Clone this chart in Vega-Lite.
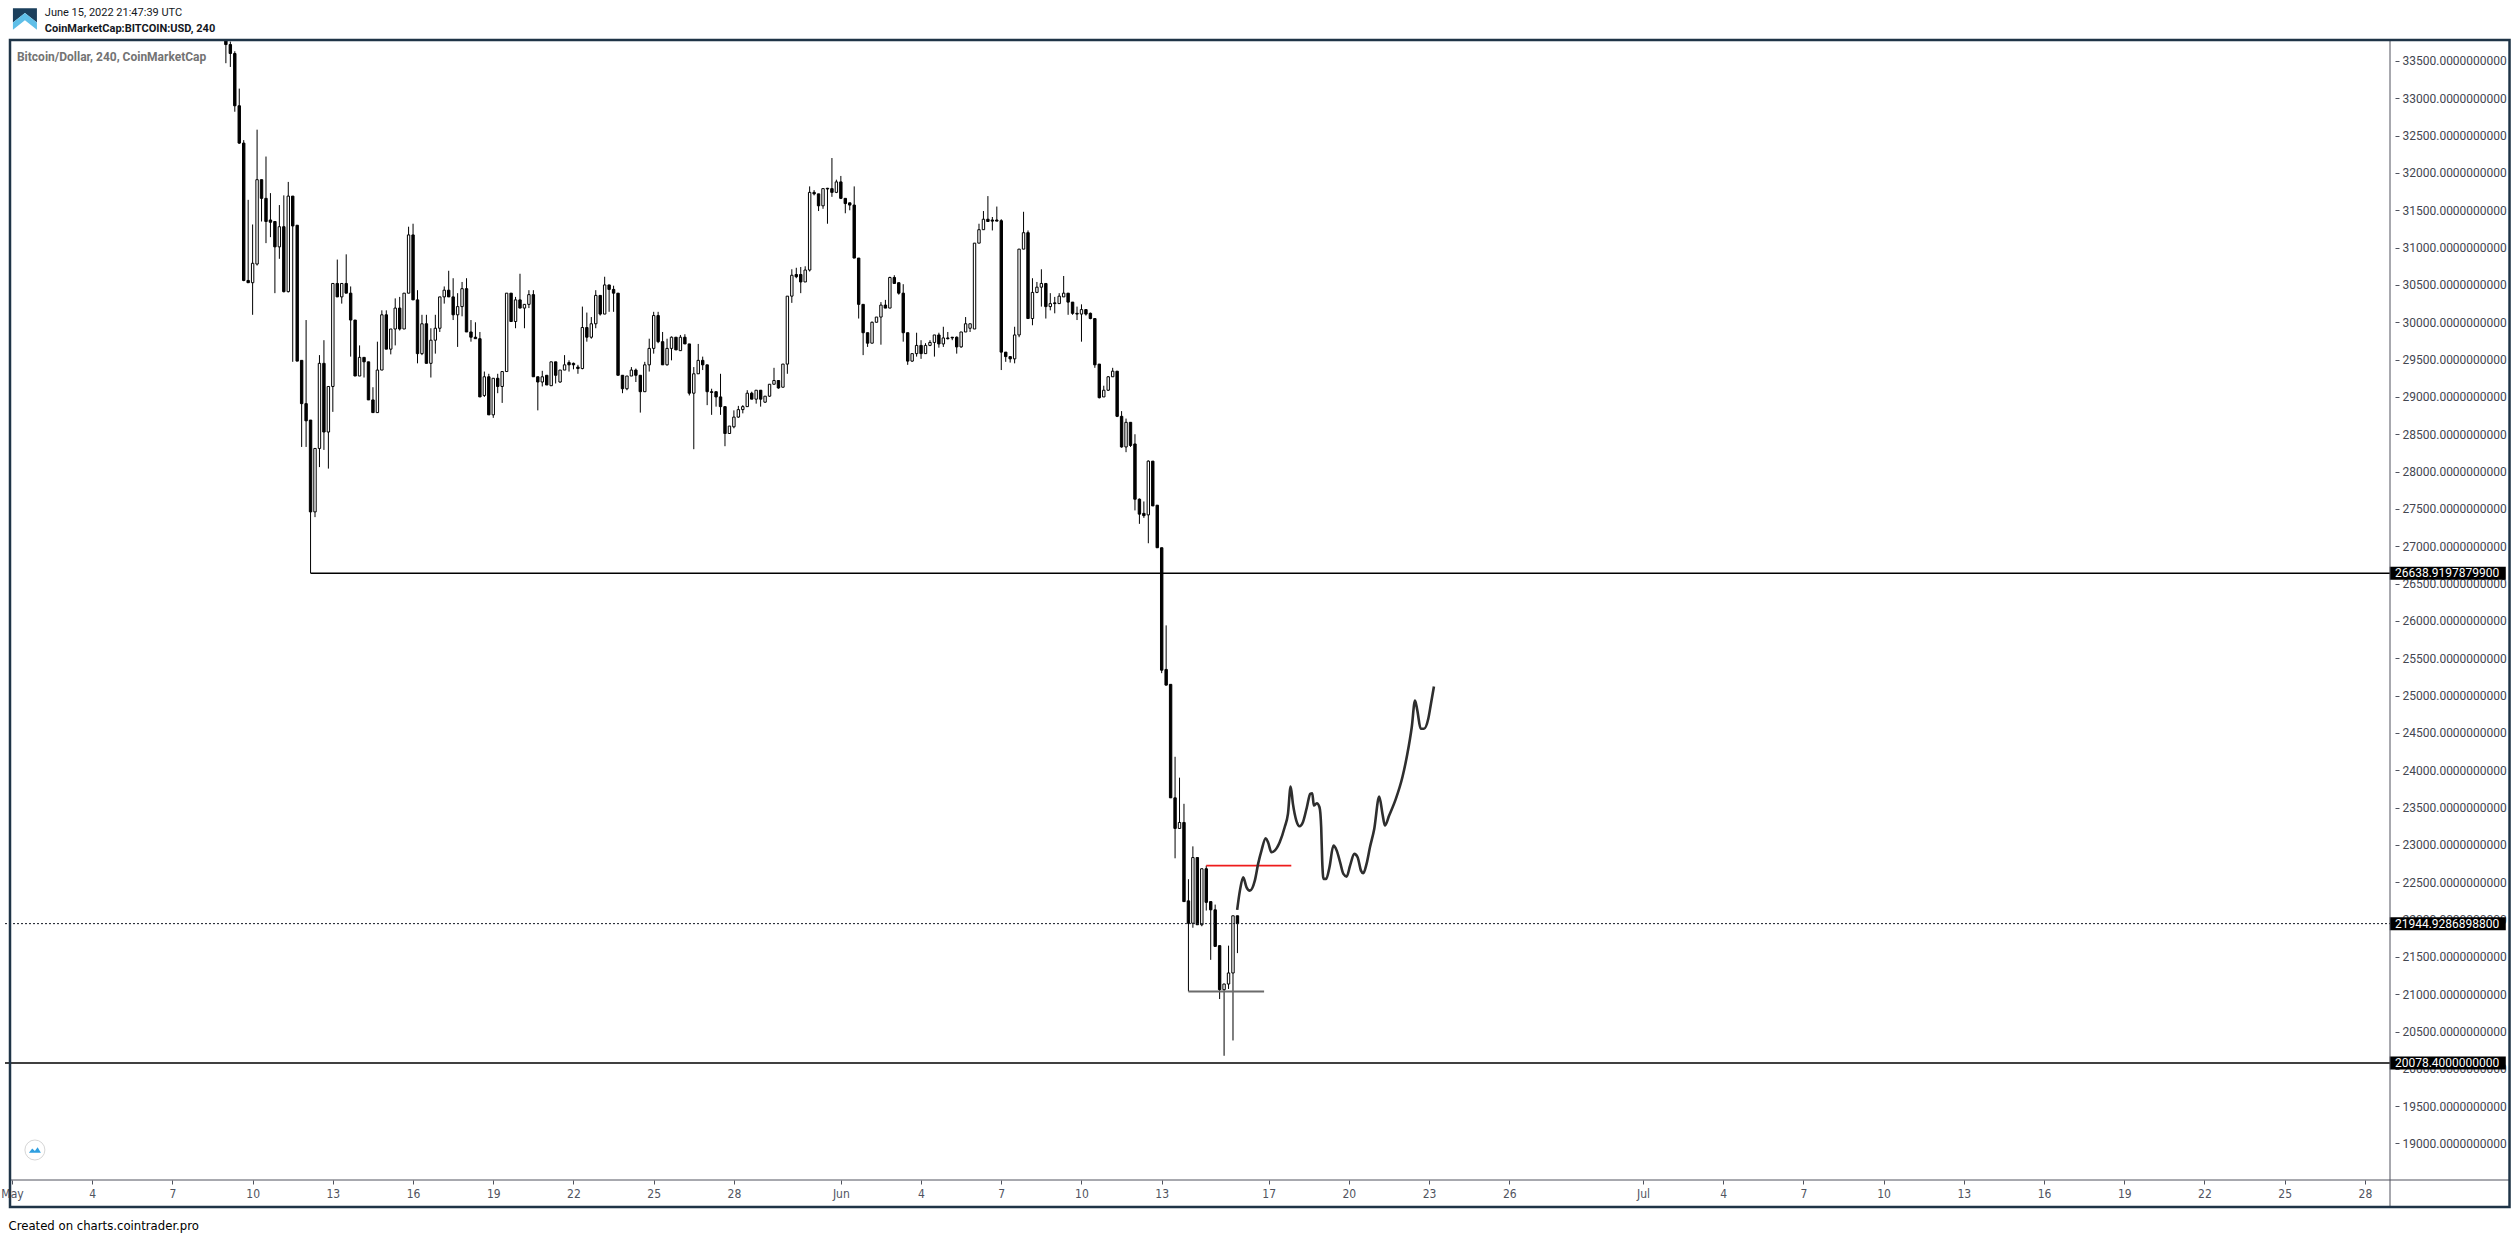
{
"$schema": "https://vega.github.io/schema/vega-lite/v6.json",
"width": 2390, "height": 1140,
"autosize": {"type": "none"},
"padding": {"left": 5, "top": 40, "right": 123, "bottom": 60},
"background": "#ffffff",
"config": {"view": {"stroke": null}, "axis": {"labelOverlap": false}},
"resolve": {"axis": {"y": "independent"}},
"datasets": {
"candles": [
{"t":"2022-05-09T00:00","o":33950,"h":34150,"l":33470,"c":33720},
{"t":"2022-05-09T04:00","o":33720,"h":33760,"l":33420,"c":33600},
{"t":"2022-05-09T08:00","o":33600,"h":33630,"l":32820,"c":32900},
{"t":"2022-05-09T12:00","o":32900,"h":33130,"l":32390,"c":32400},
{"t":"2022-05-09T16:00","o":32400,"h":32440,"l":30550,"c":30560},
{"t":"2022-05-09T20:00","o":30560,"h":31640,"l":30530,"c":30530},
{"t":"2022-05-10T00:00","o":30530,"h":31310,"l":30100,"c":30790},
{"t":"2022-05-10T04:00","o":30780,"h":32580,"l":30760,"c":31910},
{"t":"2022-05-10T08:00","o":31910,"h":31910,"l":31350,"c":31660},
{"t":"2022-05-10T12:00","o":31660,"h":32220,"l":31060,"c":31350},
{"t":"2022-05-10T16:00","o":31370,"h":31730,"l":31140,"c":31340},
{"t":"2022-05-10T20:00","o":31350,"h":31350,"l":30390,"c":31010},
{"t":"2022-05-11T00:00","o":31010,"h":31570,"l":30850,"c":31280},
{"t":"2022-05-11T04:00","o":31280,"h":31700,"l":30400,"c":30410},
{"t":"2022-05-11T08:00","o":30410,"h":31880,"l":30400,"c":31690},
{"t":"2022-05-11T12:00","o":31690,"h":31690,"l":29470,"c":31290},
{"t":"2022-05-11T16:00","o":31300,"h":31300,"l":29480,"c":29480},
{"t":"2022-05-11T20:00","o":29490,"h":29490,"l":28330,"c":28910},
{"t":"2022-05-12T00:00","o":28910,"h":30030,"l":28330,"c":28680},
{"t":"2022-05-12T04:00","o":28690,"h":28690,"l":26638.92,"c":27460},
{"t":"2022-05-12T08:00","o":27460,"h":28310,"l":27390,"c":28310},
{"t":"2022-05-12T12:00","o":28310,"h":29560,"l":28060,"c":29450},
{"t":"2022-05-12T16:00","o":29450,"h":29760,"l":28290,"c":28530},
{"t":"2022-05-12T20:00","o":28530,"h":29140,"l":28040,"c":29140},
{"t":"2022-05-13T00:00","o":29140,"h":30520,"l":28800,"c":30520},
{"t":"2022-05-13T04:00","o":30520,"h":30840,"l":30340,"c":30340},
{"t":"2022-05-13T08:00","o":30340,"h":30520,"l":30250,"c":30520},
{"t":"2022-05-13T12:00","o":30520,"h":30910,"l":30390,"c":30390},
{"t":"2022-05-13T16:00","o":30390,"h":30480,"l":29540,"c":30030},
{"t":"2022-05-13T20:00","o":30030,"h":30030,"l":29280,"c":29280},
{"t":"2022-05-14T00:00","o":29280,"h":29690,"l":29280,"c":29530},
{"t":"2022-05-14T04:00","o":29530,"h":29530,"l":29260,"c":29470},
{"t":"2022-05-14T08:00","o":29470,"h":29470,"l":28960,"c":28960},
{"t":"2022-05-14T12:00","o":28960,"h":29130,"l":28790,"c":28790},
{"t":"2022-05-14T16:00","o":28790,"h":29740,"l":28790,"c":29360},
{"t":"2022-05-14T20:00","o":29360,"h":30160,"l":29360,"c":30100},
{"t":"2022-05-15T00:00","o":30100,"h":30160,"l":29640,"c":29640},
{"t":"2022-05-15T04:00","o":29640,"h":29910,"l":29570,"c":29910},
{"t":"2022-05-15T08:00","o":29910,"h":30320,"l":29690,"c":30190},
{"t":"2022-05-15T12:00","o":30190,"h":30340,"l":29890,"c":29910},
{"t":"2022-05-15T16:00","o":29910,"h":30390,"l":29910,"c":30390},
{"t":"2022-05-15T20:00","o":30390,"h":31280,"l":30390,"c":31170},
{"t":"2022-05-16T00:00","o":31170,"h":31320,"l":30300,"c":30300},
{"t":"2022-05-16T04:00","o":30300,"h":30430,"l":29450,"c":29580},
{"t":"2022-05-16T08:00","o":29580,"h":30100,"l":29560,"c":29980},
{"t":"2022-05-16T12:00","o":29980,"h":30100,"l":29450,"c":29450},
{"t":"2022-05-16T16:00","o":29450,"h":29920,"l":29260,"c":29760},
{"t":"2022-05-16T20:00","o":29760,"h":30100,"l":29580,"c":29920},
{"t":"2022-05-17T00:00","o":29920,"h":30340,"l":29870,"c":30340},
{"t":"2022-05-17T04:00","o":30340,"h":30480,"l":30250,"c":30430},
{"t":"2022-05-17T08:00","o":30430,"h":30690,"l":30340,"c":30340},
{"t":"2022-05-17T12:00","o":30340,"h":30590,"l":30030,"c":30100},
{"t":"2022-05-17T16:00","o":30100,"h":30390,"l":29670,"c":30210},
{"t":"2022-05-17T20:00","o":30210,"h":30540,"l":30080,"c":30450},
{"t":"2022-05-18T00:00","o":30450,"h":30590,"l":29870,"c":29870},
{"t":"2022-05-18T04:00","o":29870,"h":30030,"l":29740,"c":29800},
{"t":"2022-05-18T08:00","o":29800,"h":30000,"l":29780,"c":29780},
{"t":"2022-05-18T12:00","o":29780,"h":29870,"l":29000,"c":29000},
{"t":"2022-05-18T16:00","o":29020,"h":29340,"l":29000,"c":29270},
{"t":"2022-05-18T20:00","o":29270,"h":29310,"l":28760,"c":28760},
{"t":"2022-05-19T00:00","o":28760,"h":29250,"l":28720,"c":29250},
{"t":"2022-05-19T04:00","o":29250,"h":29310,"l":29050,"c":29140},
{"t":"2022-05-19T08:00","o":29140,"h":29340,"l":28920,"c":29340},
{"t":"2022-05-19T12:00","o":29340,"h":30390,"l":29340,"c":30390},
{"t":"2022-05-19T16:00","o":30390,"h":30390,"l":30010,"c":30010},
{"t":"2022-05-19T20:00","o":30010,"h":30340,"l":29920,"c":30300},
{"t":"2022-05-20T00:00","o":30300,"h":30650,"l":30190,"c":30190},
{"t":"2022-05-20T04:00","o":30190,"h":30240,"l":29920,"c":30240},
{"t":"2022-05-20T08:00","o":30240,"h":30430,"l":30190,"c":30370},
{"t":"2022-05-20T12:00","o":30370,"h":30430,"l":29270,"c":29270},
{"t":"2022-05-20T16:00","o":29270,"h":29270,"l":28820,"c":29200},
{"t":"2022-05-20T20:00","o":29200,"h":29350,"l":29140,"c":29270},
{"t":"2022-05-21T00:00","o":29290,"h":29290,"l":29160,"c":29160},
{"t":"2022-05-21T04:00","o":29150,"h":29470,"l":29150,"c":29470},
{"t":"2022-05-21T08:00","o":29470,"h":29470,"l":29180,"c":29290},
{"t":"2022-05-21T12:00","o":29200,"h":29360,"l":29190,"c":29360},
{"t":"2022-05-21T16:00","o":29360,"h":29560,"l":29360,"c":29430},
{"t":"2022-05-21T20:00","o":29460,"h":29490,"l":29340,"c":29430},
{"t":"2022-05-22T00:00","o":29450,"h":29460,"l":29370,"c":29430},
{"t":"2022-05-22T04:00","o":29400,"h":29430,"l":29310,"c":29380},
{"t":"2022-05-22T08:00","o":29380,"h":30210,"l":29370,"c":29930},
{"t":"2022-05-22T12:00","o":29930,"h":30130,"l":29740,"c":29800},
{"t":"2022-05-22T16:00","o":29800,"h":30070,"l":29780,"c":29980},
{"t":"2022-05-22T20:00","o":29980,"h":30430,"l":29920,"c":30360},
{"t":"2022-05-23T00:00","o":30360,"h":30360,"l":30090,"c":30110},
{"t":"2022-05-23T04:00","o":30110,"h":30610,"l":30110,"c":30500},
{"t":"2022-05-23T08:00","o":30500,"h":30500,"l":30140,"c":30440},
{"t":"2022-05-23T12:00","o":30440,"h":30490,"l":30140,"c":30390},
{"t":"2022-05-23T16:00","o":30390,"h":30390,"l":29290,"c":29290},
{"t":"2022-05-23T20:00","o":29290,"h":29290,"l":29050,"c":29110},
{"t":"2022-05-24T00:00","o":29110,"h":29280,"l":29090,"c":29280},
{"t":"2022-05-24T04:00","o":29280,"h":29400,"l":29280,"c":29360},
{"t":"2022-05-24T08:00","o":29360,"h":29380,"l":29200,"c":29290},
{"t":"2022-05-24T12:00","o":29290,"h":29290,"l":28790,"c":29070},
{"t":"2022-05-24T16:00","o":29070,"h":29470,"l":29070,"c":29430},
{"t":"2022-05-24T20:00","o":29430,"h":29780,"l":29340,"c":29650},
{"t":"2022-05-25T00:00","o":29650,"h":30140,"l":29580,"c":30090},
{"t":"2022-05-25T04:00","o":30090,"h":30140,"l":29720,"c":29740},
{"t":"2022-05-25T08:00","o":29740,"h":29870,"l":29430,"c":29430},
{"t":"2022-05-25T12:00","o":29430,"h":29780,"l":29420,"c":29650},
{"t":"2022-05-25T16:00","o":29650,"h":29810,"l":29490,"c":29800},
{"t":"2022-05-25T20:00","o":29800,"h":29800,"l":29630,"c":29630},
{"t":"2022-05-26T00:00","o":29620,"h":29830,"l":29620,"c":29800},
{"t":"2022-05-26T04:00","o":29800,"h":29840,"l":29710,"c":29710},
{"t":"2022-05-26T08:00","o":29710,"h":29710,"l":29020,"c":29050},
{"t":"2022-05-26T12:00","o":29050,"h":29400,"l":28300,"c":29310},
{"t":"2022-05-26T16:00","o":29310,"h":29710,"l":29310,"c":29490},
{"t":"2022-05-26T20:00","o":29490,"h":29540,"l":29360,"c":29430},
{"t":"2022-05-27T00:00","o":29430,"h":29430,"l":28890,"c":29070},
{"t":"2022-05-27T04:00","o":29070,"h":29110,"l":28760,"c":29060},
{"t":"2022-05-27T08:00","o":29070,"h":29070,"l":28870,"c":29000},
{"t":"2022-05-27T12:00","o":29000,"h":29310,"l":28760,"c":28870},
{"t":"2022-05-27T16:00","o":28870,"h":28870,"l":28340,"c":28510},
{"t":"2022-05-27T20:00","o":28510,"h":28610,"l":28510,"c":28610},
{"t":"2022-05-28T00:00","o":28600,"h":28820,"l":28580,"c":28730},
{"t":"2022-05-28T04:00","o":28730,"h":28880,"l":28720,"c":28830},
{"t":"2022-05-28T08:00","o":28830,"h":28890,"l":28780,"c":28870},
{"t":"2022-05-28T12:00","o":28870,"h":29090,"l":28870,"c":29050},
{"t":"2022-05-28T16:00","o":29050,"h":29070,"l":28970,"c":28970},
{"t":"2022-05-28T20:00","o":28970,"h":29090,"l":28910,"c":29090},
{"t":"2022-05-29T00:00","o":29090,"h":29090,"l":28870,"c":28970},
{"t":"2022-05-29T04:00","o":28930,"h":29010,"l":28920,"c":29010},
{"t":"2022-05-29T08:00","o":29010,"h":29170,"l":29000,"c":29170},
{"t":"2022-05-29T12:00","o":29170,"h":29390,"l":29170,"c":29220},
{"t":"2022-05-29T16:00","o":29220,"h":29220,"l":29110,"c":29120},
{"t":"2022-05-29T20:00","o":29130,"h":29440,"l":29130,"c":29440},
{"t":"2022-05-30T00:00","o":29440,"h":30350,"l":29310,"c":30350},
{"t":"2022-05-30T04:00","o":30350,"h":30710,"l":30260,"c":30630},
{"t":"2022-05-30T08:00","o":30640,"h":30730,"l":30590,"c":30610},
{"t":"2022-05-30T12:00","o":30640,"h":30740,"l":30390,"c":30540},
{"t":"2022-05-30T16:00","o":30540,"h":30750,"l":30540,"c":30700},
{"t":"2022-05-30T20:00","o":30700,"h":31820,"l":30680,"c":31740},
{"t":"2022-05-31T00:00","o":31740,"h":31770,"l":31700,"c":31720},
{"t":"2022-05-31T04:00","o":31720,"h":31720,"l":31490,"c":31560},
{"t":"2022-05-31T08:00","o":31560,"h":31790,"l":31520,"c":31790},
{"t":"2022-05-31T12:00","o":31795,"h":31800,"l":31320,"c":31785},
{"t":"2022-05-31T16:00","o":31790,"h":32200,"l":31680,"c":31740},
{"t":"2022-05-31T20:00","o":31740,"h":31910,"l":31730,"c":31880},
{"t":"2022-06-01T00:00","o":31880,"h":31960,"l":31650,"c":31660},
{"t":"2022-06-01T04:00","o":31660,"h":31660,"l":31460,"c":31590},
{"t":"2022-06-01T08:00","o":31600,"h":31600,"l":31500,"c":31570},
{"t":"2022-06-01T12:00","o":31570,"h":31820,"l":30860,"c":30860},
{"t":"2022-06-01T16:00","o":30860,"h":30860,"l":30050,"c":30240},
{"t":"2022-06-01T20:00","o":30240,"h":30240,"l":29560,"c":29860},
{"t":"2022-06-02T00:00","o":29860,"h":29860,"l":29670,"c":29720},
{"t":"2022-06-02T04:00","o":29720,"h":30010,"l":29720,"c":30000},
{"t":"2022-06-02T08:00","o":30000,"h":30070,"l":30000,"c":30070},
{"t":"2022-06-02T12:00","o":30070,"h":30270,"l":29700,"c":30230},
{"t":"2022-06-02T16:00","o":30230,"h":30300,"l":30190,"c":30190},
{"t":"2022-06-02T20:00","o":30190,"h":30610,"l":30190,"c":30600},
{"t":"2022-06-03T00:00","o":30600,"h":30630,"l":30520,"c":30520},
{"t":"2022-06-03T04:00","o":30530,"h":30530,"l":30370,"c":30390},
{"t":"2022-06-03T08:00","o":30390,"h":30510,"l":29740,"c":29860},
{"t":"2022-06-03T12:00","o":29860,"h":29860,"l":29430,"c":29480},
{"t":"2022-06-03T16:00","o":29480,"h":29580,"l":29470,"c":29580},
{"t":"2022-06-03T20:00","o":29580,"h":29860,"l":29540,"c":29690},
{"t":"2022-06-04T00:00","o":29690,"h":29760,"l":29510,"c":29580},
{"t":"2022-06-04T04:00","o":29580,"h":29720,"l":29580,"c":29690},
{"t":"2022-06-04T08:00","o":29690,"h":29760,"l":29680,"c":29730},
{"t":"2022-06-04T12:00","o":29730,"h":29830,"l":29540,"c":29830},
{"t":"2022-06-04T16:00","o":29830,"h":29860,"l":29660,"c":29710},
{"t":"2022-06-04T20:00","o":29710,"h":29940,"l":29670,"c":29790},
{"t":"2022-06-05T00:00","o":29790,"h":29870,"l":29770,"c":29780},
{"t":"2022-06-05T04:00","o":29800,"h":29800,"l":29760,"c":29790},
{"t":"2022-06-05T08:00","o":29800,"h":29810,"l":29580,"c":29670},
{"t":"2022-06-05T12:00","o":29670,"h":29870,"l":29660,"c":29870},
{"t":"2022-06-05T16:00","o":29870,"h":30070,"l":29870,"c":29980},
{"t":"2022-06-05T20:00","o":29920,"h":29980,"l":29870,"c":29980},
{"t":"2022-06-06T00:00","o":29910,"h":31060,"l":29910,"c":31060},
{"t":"2022-06-06T04:00","o":31060,"h":31320,"l":31060,"c":31240},
{"t":"2022-06-06T08:00","o":31240,"h":31490,"l":31240,"c":31380},
{"t":"2022-06-06T12:00","o":31380,"h":31690,"l":31350,"c":31350},
{"t":"2022-06-06T16:00","o":31370,"h":31410,"l":31230,"c":31355},
{"t":"2022-06-06T20:00","o":31370,"h":31550,"l":31355,"c":31355},
{"t":"2022-06-07T00:00","o":31360,"h":31380,"l":29360,"c":29600},
{"t":"2022-06-07T04:00","o":29600,"h":29600,"l":29470,"c":29540},
{"t":"2022-06-07T08:00","o":29540,"h":29540,"l":29460,"c":29510},
{"t":"2022-06-07T12:00","o":29510,"h":29940,"l":29450,"c":29830},
{"t":"2022-06-07T16:00","o":29830,"h":30980,"l":29800,"c":30980},
{"t":"2022-06-07T20:00","o":30980,"h":31480,"l":30980,"c":31200},
{"t":"2022-06-08T00:00","o":31200,"h":31230,"l":30050,"c":30050},
{"t":"2022-06-08T04:00","o":30050,"h":30590,"l":29960,"c":30400},
{"t":"2022-06-08T08:00","o":30400,"h":30540,"l":30390,"c":30470},
{"t":"2022-06-08T12:00","o":30470,"h":30710,"l":30210,"c":30520},
{"t":"2022-06-08T16:00","o":30520,"h":30520,"l":30050,"c":30210},
{"t":"2022-06-08T20:00","o":30210,"h":30390,"l":30160,"c":30250},
{"t":"2022-06-09T00:00","o":30260,"h":30340,"l":30120,"c":30250},
{"t":"2022-06-09T04:00","o":30250,"h":30390,"l":30250,"c":30350},
{"t":"2022-06-09T08:00","o":30340,"h":30620,"l":30340,"c":30390},
{"t":"2022-06-09T12:00","o":30390,"h":30390,"l":30100,"c":30270},
{"t":"2022-06-09T16:00","o":30270,"h":30270,"l":30100,"c":30120},
{"t":"2022-06-09T20:00","o":30120,"h":30210,"l":30030,"c":30110},
{"t":"2022-06-10T00:00","o":30110,"h":30240,"l":29740,"c":30170},
{"t":"2022-06-10T04:00","o":30170,"h":30170,"l":30090,"c":30110},
{"t":"2022-06-10T08:00","o":30120,"h":30130,"l":30040,"c":30050},
{"t":"2022-06-10T12:00","o":30050,"h":30050,"l":29390,"c":29430},
{"t":"2022-06-10T16:00","o":29440,"h":29440,"l":28980,"c":28990},
{"t":"2022-06-10T20:00","o":29000,"h":29150,"l":29000,"c":29090},
{"t":"2022-06-11T00:00","o":29090,"h":29280,"l":29080,"c":29270},
{"t":"2022-06-11T04:00","o":29270,"h":29390,"l":29270,"c":29345},
{"t":"2022-06-11T08:00","o":29345,"h":29345,"l":28730,"c":28740},
{"t":"2022-06-11T12:00","o":28740,"h":28810,"l":28320,"c":28330},
{"t":"2022-06-11T16:00","o":28330,"h":28710,"l":28260,"c":28660},
{"t":"2022-06-11T20:00","o":28660,"h":28660,"l":28330,"c":28350},
{"t":"2022-06-12T00:00","o":28370,"h":28500,"l":27480,"c":27630},
{"t":"2022-06-12T04:00","o":27630,"h":27640,"l":27300,"c":27430},
{"t":"2022-06-12T08:00","o":27440,"h":27600,"l":27380,"c":27410},
{"t":"2022-06-12T12:00","o":27420,"h":28150,"l":27040,"c":28140},
{"t":"2022-06-12T16:00","o":28140,"h":28140,"l":27540,"c":27540},
{"t":"2022-06-12T20:00","o":27550,"h":27550,"l":26980,"c":26980},
{"t":"2022-06-13T00:00","o":26980,"h":26980,"l":25300,"c":25340},
{"t":"2022-06-13T04:00","o":25350,"h":25940,"l":25135,"c":25140},
{"t":"2022-06-13T08:00","o":25150,"h":25150,"l":23630,"c":23630},
{"t":"2022-06-13T12:00","o":23630,"h":24180,"l":22820,"c":23220},
{"t":"2022-06-13T16:00","o":23220,"h":23900,"l":23220,"c":23300},
{"t":"2022-06-13T20:00","o":23300,"h":23550,"l":22240,"c":22240},
{"t":"2022-06-14T00:00","o":22250,"h":22540,"l":21037,"c":21950},
{"t":"2022-06-14T04:00","o":21950,"h":22980,"l":21890,"c":22830},
{"t":"2022-06-14T08:00","o":22830,"h":22830,"l":21930,"c":21930},
{"t":"2022-06-14T12:00","o":21930,"h":22680,"l":21910,"c":22680},
{"t":"2022-06-14T16:00","o":22680,"h":22722,"l":22120,"c":22230},
{"t":"2022-06-14T20:00","o":22240,"h":22240,"l":21460,"c":22130},
{"t":"2022-06-15T00:00","o":22130,"h":22200,"l":21640,"c":21640},
{"t":"2022-06-15T04:00","o":21650,"h":21650,"l":20935,"c":21060},
{"t":"2022-06-15T08:00","o":21060,"h":21140,"l":20175,"c":21136},
{"t":"2022-06-15T12:00","o":21136,"h":21650,"l":21070,"c":21284},
{"t":"2022-06-15T16:00","o":21284,"h":22050,"l":20380,"c":22050},
{"t":"2022-06-15T20:00","o":22050,"h":22050,"l":21550,"c":21944.93}
],
"path": [
{"t":"2022-06-15T19:45","p":22130},{"t":"2022-06-15T22:12","p":22387},{"t":"2022-06-16T01:09","p":22565},{"t":"2022-06-16T04:10","p":22431},
{"t":"2022-06-16T07:08","p":22387},{"t":"2022-06-16T11:35","p":22521},{"t":"2022-06-16T14:33","p":22745},{"t":"2022-06-16T17:34","p":22923},
{"t":"2022-06-16T21:25","p":23088},{"t":"2022-06-16T23:28","p":23035},{"t":"2022-06-17T02:30","p":22901},{"t":"2022-06-17T05:27","p":22923},
{"t":"2022-06-17T09:55","p":23035},{"t":"2022-06-17T14:23","p":23236},{"t":"2022-06-17T17:20","p":23415},{"t":"2022-06-17T19:45","p":23781},
{"t":"2022-06-17T21:48","p":23549},{"t":"2022-06-18T00:50","p":23326},{"t":"2022-06-18T03:48","p":23249},{"t":"2022-06-18T06:45","p":23303},
{"t":"2022-06-18T10:19","p":23504},{"t":"2022-06-18T13:21","p":23683},{"t":"2022-06-18T15:09","p":23692},{"t":"2022-06-18T16:34","p":23527},
{"t":"2022-06-18T19:15","p":23558},{"t":"2022-06-18T21:39","p":23504},{"t":"2022-06-18T23:10","p":23236},{"t":"2022-06-19T00:04","p":22789},
{"t":"2022-06-19T01:13","p":22544},{"t":"2022-06-19T03:39","p":22544},{"t":"2022-06-19T06:36","p":22700},{"t":"2022-06-19T10:10","p":22990},
{"t":"2022-06-19T13:08","p":22923},{"t":"2022-06-19T16:09","p":22767},{"t":"2022-06-19T19:06","p":22611},{"t":"2022-06-19T22:03","p":22575},
{"t":"2022-06-20T01:05","p":22722},{"t":"2022-06-20T04:55","p":22879},{"t":"2022-06-20T07:52","p":22834},{"t":"2022-06-20T10:54","p":22655},
{"t":"2022-06-20T12:56","p":22619},{"t":"2022-06-20T15:53","p":22745},{"t":"2022-06-20T18:56","p":22968},{"t":"2022-06-20T22:47","p":23214},
{"t":"2022-06-21T03:14","p":23647},{"t":"2022-06-21T06:12","p":23415},{"t":"2022-06-21T08:20","p":23259},{"t":"2022-06-21T12:10","p":23393},
{"t":"2022-06-21T18:10","p":23616},{"t":"2022-06-22T00:03","p":23906},{"t":"2022-06-22T04:31","p":24220},{"t":"2022-06-22T08:27","p":24576},
{"t":"2022-06-22T11:24","p":24934},{"t":"2022-06-22T13:28","p":24800},{"t":"2022-06-22T16:29","p":24555},{"t":"2022-06-22T19:26","p":24555},
{"t":"2022-06-22T23:17","p":24689},{"t":"2022-06-23T01:41","p":24890},{"t":"2022-06-23T04:22","p":25122}
],
"levels": [
{"p":26638.91978799,"lab":"26638.9197879900"},
{"p":21944.92868988,"lab":"21944.9286898800"},
{"p":20078.4,"lab":"20078.4000000000"}
]
},
"layer": [
{
"data": {"name": "candles"},
"mark": {"type": "rule", "color": "#000000", "strokeWidth": 1, "clip": true},
"encoding": {
"x": {"field": "t", "type": "temporal",
"scale": {"domain": [{"year":2022,"month":4,"date":30,"hours":22,"minutes":13},{"year":2022,"month":7,"date":28,"hours":22,"minutes":33}], "nice": false},
"axis": {"values": [
{"year":2022,"month":5,"date":1},{"year":2022,"month":5,"date":4},{"year":2022,"month":5,"date":7},{"year":2022,"month":5,"date":10},{"year":2022,"month":5,"date":13},{"year":2022,"month":5,"date":16},{"year":2022,"month":5,"date":19},{"year":2022,"month":5,"date":22},{"year":2022,"month":5,"date":25},{"year":2022,"month":5,"date":28},
{"year":2022,"month":6,"date":1},{"year":2022,"month":6,"date":4},{"year":2022,"month":6,"date":7},{"year":2022,"month":6,"date":10},{"year":2022,"month":6,"date":13},{"year":2022,"month":6,"date":17},{"year":2022,"month":6,"date":20},{"year":2022,"month":6,"date":23},{"year":2022,"month":6,"date":26},
{"year":2022,"month":7,"date":1},{"year":2022,"month":7,"date":4},{"year":2022,"month":7,"date":7},{"year":2022,"month":7,"date":10},{"year":2022,"month":7,"date":13},{"year":2022,"month":7,"date":16},{"year":2022,"month":7,"date":19},{"year":2022,"month":7,"date":22},{"year":2022,"month":7,"date":25},{"year":2022,"month":7,"date":28}],
"labelExpr": "date(datum.value) === 1 ? timeFormat(datum.value, '%b') : timeFormat(datum.value, '%-d')",
"title": "Created on charts.cointrader.pro", "titleX": 3, "titleY": 45, "titleAlign": "left", "titleAnchor": "start", "titleBaseline": "middle", "titleAngle": 0,
"titleFont": "'Liberation Sans Narrow', 'DejaVu Sans Condensed', 'Roboto Condensed', Roboto, sans-serif", "titleFontSize": 13, "titleFontWeight": "normal", "titleColor": "#000000",
"domain": false, "grid": false, "ticks": true, "tickSize": 4, "tickColor": "#50535e",
"labelFont": "'Liberation Sans Narrow', 'DejaVu Sans Condensed', 'Roboto Condensed', Roboto, sans-serif", "labelFontSize": 12, "labelColor": "#50535e", "labelPadding": 4,
"labelOverlap": false, "labelFlush": false, "labelBound": false}},
"y": {"field": "l", "type": "quantitative",
"scale": {"domain": [18511, 33781], "nice": false, "zero": false},
"axis": {"orient": "right", "title": null, "values": [19000,20000,21000,22000,23000,24000,25000,26000,27000,28000,29000,30000,31000,32000,33000],
"labelExpr": "format(datum.value, '.10f')", "domain": false, "grid": false, "tickSize": 4, "tickColor": "#50535e",
"labelFont": "Roboto", "labelFontSize": 12, "labelColor": "#434651", "labelPadding": 3, "labelOverlap": false, "labelFlush": false, "labelBound": false}},
"y2": {"field": "h"}
}
},
{
"data": {"name": "candles"},
"mark": {"type": "bar", "width": 2.4, "stroke": "#000000", "strokeWidth": 1, "clip": true},
"encoding": {
"x": {"field": "t", "type": "temporal"},
"y": {"field": "o", "type": "quantitative",
"axis": {"orient": "right", "title": null, "values": [19500,20500,21500,22500,23500,24500,25500,26500,27500,28500,29500,30500,31500,32500,33500],
"labelExpr": "format(datum.value, '.10f')", "domain": false, "grid": false, "tickSize": 4, "tickColor": "#50535e",
"labelFont": "Roboto", "labelFontSize": 12, "labelColor": "#434651", "labelPadding": 3, "labelOverlap": false, "labelFlush": false, "labelBound": false}},
"y2": {"field": "c"},
"fill": {"condition": {"test": "datum.c < datum.o", "value": "#000000"}, "value": "#ffffff"}
}
},
{
"data": {"values": [{"s": "2022-05-12T04:00", "e": "2022-07-28T22:33", "p": 26638.91978799}]},
"mark": {"type": "rule", "color": "#000000", "strokeWidth": 1.5},
"encoding": {"x": {"field": "s", "type": "temporal"}, "x2": {"field": "e"}, "y": {"field": "p", "type": "quantitative", "axis": null}}
},
{
"data": {"values": [{"p": 21944.92868988}]},
"mark": {"type": "rule", "color": "#131722", "strokeWidth": 1, "strokeDash": [2, 2]},
"encoding": {"y": {"field": "p", "type": "quantitative", "axis": null}}
},
{
"data": {"values": [{"p": 20078.4}]},
"mark": {"type": "rule", "color": "#000000", "strokeWidth": 1.3},
"encoding": {"y": {"field": "p", "type": "quantitative", "axis": null}}
},
{
"data": {"values": [{"s": "2022-06-14T00:00", "e": "2022-06-16T19:55", "p": 21037}]},
"mark": {"type": "rule", "color": "#6b6b6b", "strokeWidth": 2},
"encoding": {"x": {"field": "s", "type": "temporal"}, "x2": {"field": "e"}, "y": {"field": "p", "type": "quantitative", "axis": null}}
},
{
"data": {"values": [{"s": "2022-06-14T16:00", "e": "2022-06-17T20:20", "p": 22722}]},
"mark": {"type": "rule", "color": "#ee1c1c", "strokeWidth": 1.8},
"encoding": {"x": {"field": "s", "type": "temporal"}, "x2": {"field": "e"}, "y": {"field": "p", "type": "quantitative", "axis": null}}
},
{
"data": {"name": "path"},
"mark": {"type": "line", "interpolate": "monotone", "color": "#2e2e2e", "strokeWidth": 2.6, "clip": true},
"encoding": {"x": {"field": "t", "type": "temporal"}, "y": {"field": "p", "type": "quantitative", "axis": null}}
},
{
"data": {"name": "levels"},
"mark": {"type": "point", "filled": true, "shape": "M-1,-0.112L1,-0.112L1,0.112L-1,0.112Z", "size": 13456, "color": "#000000", "opacity": 1, "clip": false},
"encoding": {"x": {"datum": {"year":2022,"month":7,"date":31,"hours":2,"minutes":25}}, "y": {"field": "p", "type": "quantitative", "axis": null}}
},
{
"data": {"name": "levels"},
"mark": {"type": "text", "align": "left", "baseline": "middle", "color": "#ffffff", "font": "Roboto", "fontSize": 12, "clip": false},
"encoding": {"x": {"datum": {"year":2022,"month":7,"date":29,"hours":3}}, "y": {"field": "p", "type": "quantitative", "axis": null}, "text": {"field": "lab"}}
},
{
"data": {"values": [{}]},
"mark": {"type": "rule", "color": "#50535e", "strokeWidth": 1, "clip": false},
"encoding": {"x": {"datum": {"year":2022,"month":7,"date":28,"hours":22,"minutes":33}}, "y": {"datum": 33781, "axis": null}, "y2": {"datum": 18150}}
},
{
"data": {"values": [{}]},
"mark": {"type": "rule", "color": "#50535e", "strokeWidth": 1, "clip": false},
"encoding": {"y": {"datum": 18511, "axis": null}, "x": {"datum": {"year":2022,"month":4,"date":30,"hours":22,"minutes":13}}, "x2": {"datum": {"year":2022,"month":8,"date":2,"hours":9,"minutes":50}}}
},
{
"data": {"values": [{}]},
"mark": {"type": "rect", "fill": null, "fillOpacity": 0, "stroke": "#1f3447", "strokeWidth": 2.5, "clip": false},
"encoding": {"x": {"datum": {"year":2022,"month":4,"date":30,"hours":22,"minutes":13}}, "x2": {"datum": {"year":2022,"month":8,"date":2,"hours":9,"minutes":50}}, "y": {"datum": 33781, "axis": null}, "y2": {"datum": 18150}}
},
{
"data": {"values": [{"label": "Bitcoin/Dollar, 240, CoinMarketCap"}]},
"mark": {"type": "text", "align": "left", "baseline": "middle", "color": "#737373", "font": "Roboto", "fontSize": 12, "fontWeight": "bold", "clip": false},
"encoding": {"x": {"datum": {"year":2022,"month":5,"date":1,"hours":4,"minutes":28}}, "y": {"datum": 33554, "axis": null}, "text": {"field": "label"}}
},
{
"data": {"values": [{"label": "June 15, 2022 21:47:39 UTC"}]},
"mark": {"type": "text", "align": "left", "baseline": "middle", "color": "#131722", "font": "Roboto", "fontSize": 11, "fontWeight": "normal", "clip": false},
"encoding": {"x": {"datum": {"year":2022,"month":5,"date":2,"hours":5,"minutes":30}}, "y": {"datum": 34139, "axis": null}, "text": {"field": "label"}}
},
{
"data": {"values": [{"label": "CoinMarketCap:BITCOIN:USD, 240"}]},
"mark": {"type": "text", "align": "left", "baseline": "middle", "color": "#131722", "font": "Roboto", "fontSize": 11, "fontWeight": "bold", "clip": false},
"encoding": {"x": {"datum": {"year":2022,"month":5,"date":2,"hours":5,"minutes":30}}, "y": {"datum": 33925, "axis": null}, "text": {"field": "label"}}
},
{
"data": {"values": [{}]},
"mark": {"type": "point", "filled": true, "shape": "M-1,-0.9L1,-0.9L1,0.3L0,-0.5L-1,0.3Z", "size": 576, "color": "#1b3f5c", "opacity": 1, "clip": false},
"encoding": {"x": {"datum": {"year":2022,"month":5,"date":1,"hours":11,"minutes":37}}, "y": {"datum": 34063, "axis": null}}
},
{
"data": {"values": [{}]},
"mark": {"type": "point", "filled": true, "shape": "M-1,0.9L-1,0.3L0,-0.5L1,0.3L1,0.9L0,0.1Z", "size": 576, "color": "#5fbfe8", "opacity": 1, "clip": false},
"encoding": {"x": {"datum": {"year":2022,"month":5,"date":1,"hours":11,"minutes":37}}, "y": {"datum": 34063, "axis": null}}
},
{
"data": {"values": [{}]},
"mark": {"type": "point", "filled": true, "shape": "circle", "size": 400, "color": "#ffffff", "stroke": "#d6d6d6", "strokeWidth": 1, "opacity": 1, "clip": false},
"encoding": {"x": {"datum": {"year":2022,"month":5,"date":1,"hours":20,"minutes":34}}, "y": {"datum": 18913, "axis": null}}
},
{
"data": {"values": [{}]},
"mark": {"type": "point", "filled": true, "shape": "M-1,0.45L-0.45,-0.25L0,0.15L0.45,-0.45L1,0.45Z", "size": 144, "color": "#2f9fe0", "opacity": 1, "clip": false},
"encoding": {"x": {"datum": {"year":2022,"month":5,"date":1,"hours":20,"minutes":34}}, "y": {"datum": 18913, "axis": null}}
}
]
}
